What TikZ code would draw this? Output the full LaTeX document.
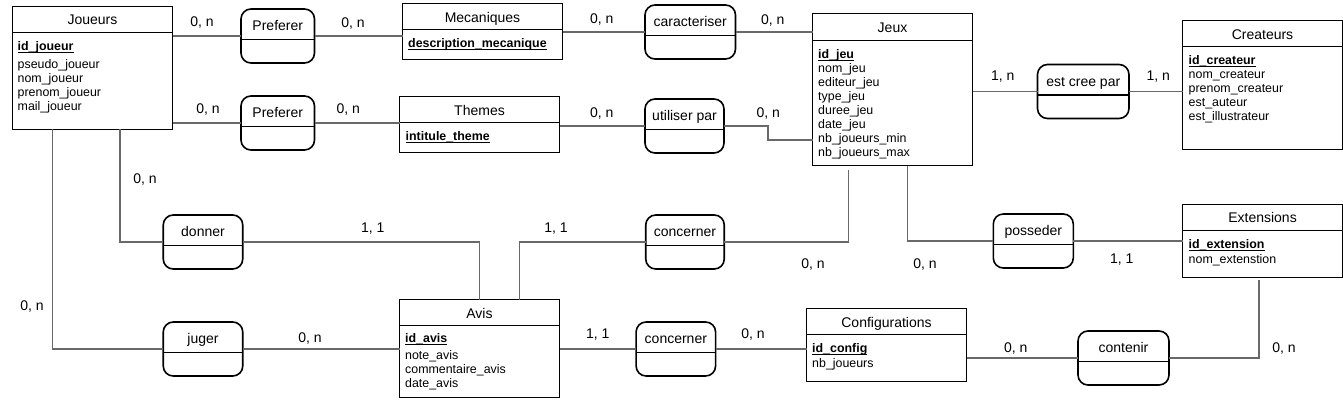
\documentclass[tikz,border=0pt]{standalone}
\usepackage{fontspec}
\setmainfont{Liberation Sans}
\usepackage{xcolor}
\usetikzlibrary{positioning}
\definecolor{lien}{RGB}{105,105,105}
\newcommand{\cleprim}[1]{\underline{\smash{#1}}}

\begin{document}
\begin{tikzpicture}[x=1pt,y=-1pt]
        \tikzstyle{entite}=[rectangle, draw=black, line width=1pt, inner sep=0pt, outer sep=0pt, minimum width=160pt]
        \tikzstyle{sep}=[line width=1pt]
        \tikzstyle{assoc}=[rectangle, rounded corners=10pt, draw=black, line width=1.6pt, inner sep=0pt, outer sep=0pt, minimum height=54pt,
          path picture={\draw[line width=1.6pt] ([yshift=-3.5pt]path picture bounding box.west) -- ([yshift=-3.5pt]path picture bounding box.east);}]
        \tikzstyle{nom}=[yshift=10.5pt, inner sep=0pt, text height=10pt, text depth=0pt, font=\fontsize{14}{16}\selectfont]
        \tikzstyle{titre}=[inner sep=0pt, text height=10pt, text depth=0pt, font=\fontsize{14}{16}\selectfont]
        \tikzstyle{attr}=[anchor=west, inner sep=0pt, text height=8.8pt, text depth=0pt, font=\fontsize{12.4}{14}\selectfont]
        \tikzstyle{cle}=[attr, font=\fontsize{12.4}{14}\selectfont\bfseries]
        \tikzstyle{card}=[inner sep=0pt, text height=10pt, text depth=0pt, font=\fontsize{14}{16}\selectfont]
        \tikzstyle{connect}=[draw=lien, line width=1.2pt]
        \fill[white] (0,0) rectangle (1343,402);
        \useasboundingbox (0,0) rectangle (1343,402);

        % entites
        \node[entite, minimum height=123pt] (joueurs) at (92.5,67.5) {};
        \draw[sep] ([yshift=-26pt]joueurs.north west) -- ([yshift=-26pt]joueurs.north east);
        \node[titre] (joueurs-t) at (92.5,19) {Joueurs};
        \node[cle] (joueurs-id) at (17.5,46) {\cleprim{id\_joueur}};
        \foreach \a [count=\i from 0] in {pseudo\_joueur, nom\_joueur, prenom\_joueur, mail\_joueur}
          \node[attr] (joueurs-a\i) at (17.5,{64+14*\i}) {\a};

        \node[entite, minimum height=56pt] (mecaniques) at (482.5,31.5) {};
        \draw[sep] ([yshift=-26pt]mecaniques.north west) -- ([yshift=-26pt]mecaniques.north east);
        \node[titre] (mecaniques-t) at (482.5,17) {Mecaniques};
        \node[cle] (mecaniques-id) at (408,43) {\cleprim{description\_mecanique}};

        \node[entite, minimum height=56pt] (themes) at (479.5,124.5) {};
        \draw[sep] ([yshift=-26pt]themes.north west) -- ([yshift=-26pt]themes.north east);
        \node[titre] (themes-t) at (479.5,110) {Themes};
        \node[cle] (themes-id) at (405.5,136) {\cleprim{intitule\_theme}};

        \node[entite, minimum height=152pt] (jeux) at (892.5,89.5) {};
        \draw[sep] ([yshift=-26.5pt]jeux.north west) -- ([yshift=-26.5pt]jeux.north east);
        \node[titre] (jeux-t) at (892.5,27) {Jeux};
        \node[cle] (jeux-id) at (818,54) {\cleprim{id\_jeu}};
        \foreach \a [count=\i from 0] in {nom\_jeu, editeur\_jeu, type\_jeu, duree\_jeu, date\_jeu, nb\_joueurs\_min, nb\_joueurs\_max}
          \node[attr] (jeux-a\i) at (818,{68+14*\i}) {\a};

        \node[entite, minimum height=129.5pt] (createurs) at (1262.5,84.75) {};
        \draw[sep] ([yshift=-26.5pt]createurs.north west) -- ([yshift=-26.5pt]createurs.north east);
        \node[titre] (createurs-t) at (1262.5,34.5) {Createurs};
        \node[cle] (createurs-id) at (1188.5,60) {\cleprim{id\_createur}};
        \foreach \a [count=\i from 0] in {nom\_createur, prenom\_createur, est\_auteur, est\_illustrateur}
          \node[attr] (createurs-a\i) at (1188.5,{74+14*\i}) {\a};

        \node[entite, minimum height=72.5pt] (extensions) at (1262.5,240.75) {};
        \draw[sep] ([yshift=-26pt]extensions.north west) -- ([yshift=-26pt]extensions.north east);
        \node[titre] (extensions-t) at (1262.5,217.5) {Extensions};
        \node[cle] (extensions-id) at (1188.5,244) {\cleprim{id\_extension}};
        \node[attr] (extensions-a0) at (1188.5,259) {nom\_extenstion};

        \node[entite, minimum height=98pt] (avis) at (479.5,348.5) {};
        \draw[sep] ([yshift=-26pt]avis.north west) -- ([yshift=-26pt]avis.north east);
        \node[titre] (avis-t) at (479.5,313) {Avis};
        \node[cle] (avis-id) at (405,338.5) {\cleprim{id\_avis}};
        \foreach \a [count=\i from 0] in {note\_avis, commentaire\_avis, date\_avis}
          \node[attr] (avis-a\i) at (405,{355+14*\i}) {\a};

        \node[entite, minimum height=73pt] (configurations) at (886.5,345) {};
        \draw[sep] ([yshift=-26pt]configurations.north west) -- ([yshift=-26pt]configurations.north east);
        \node[titre] (configurations-t) at (886.5,322) {Configurations};
        \node[cle] (configurations-id) at (812,348) {\cleprim{id\_config}};
        \node[attr] (configurations-a0) at (812,363) {nb\_joueurs};

        % associations
        \node[assoc, minimum width=73.5pt] (pref1) at (277.75,36) [label={[nom]center:Preferer}] {};
        \node[assoc, minimum width=73.5pt] (pref2) at (277.75,123) [label={[nom]center:Preferer}] {};
        \node[assoc, minimum width=90.5pt] (caract) at (690.25,32) [label={[nom]center:caracteriser}] {};
        \node[assoc, minimum width=79pt] (utiliser) at (684.5,126) [label={[nom]center:utiliser par}] {};
        \node[assoc, minimum width=91.5pt] (estcree) at (1083.25,91.5) [label={[nom]center:est cree par}] {};
        \node[assoc, minimum width=79.5pt] (donner) at (203,242) [label={[nom]center:donner}] {};
        \node[assoc, minimum width=79.5pt] (juger) at (203,349) [label={[nom]center:juger}] {};
        \node[assoc, minimum width=78.5pt] (concerner1) at (685,242) [label={[nom]center:concerner}] {};
        \node[assoc, minimum width=80pt] (posseder) at (1033.3,241) [label={[nom]center:posseder}] {};
        \node[assoc, minimum width=79.5pt] (concerner2) at (675.85,349) [label={[nom]center:concerner}] {};
        \node[assoc, minimum width=91pt] (contenir) at (1123.5,358) [label={[nom]center:contenir}] {};

        % liens
        \coordinate (jeux-min) at ([yshift=-50.5pt]jeux.west);
        \draw[connect] (pref1.west -| joueurs.east) -- (pref1.west);
        \draw[connect] (pref1.east) -- (pref1.east -| mecaniques.west);
        \draw[connect] (pref2.west -| joueurs.east) -- (pref2.west);
        \draw[connect] (pref2.east) -- (pref2.east -| themes.west);
        \draw[connect] (caract.west -| mecaniques.east) -- (caract.west);
        \draw[connect] (caract.east) -- (caract.east -| jeux.west);
        \draw[connect] (utiliser.west -| themes.east) -- (utiliser.west);
        \draw[connect] (utiliser.east) -- ++(44,0) |- (jeux-min);
        \draw[connect] (estcree.west -| jeux.east) -- (estcree.west);
        \draw[connect] (estcree.east) -- (estcree.east -| createurs.west);
        \draw[connect] ([xshift=40pt]joueurs.south west) |- (juger.west);
        \draw[connect] ([xshift=107.5pt]joueurs.south west) |- (donner.west);
        \draw[connect] (donner.east) -| ([xshift=80pt]avis.north west);
        \draw[connect] ([xshift=120pt]avis.north west) |- (concerner1.west);
        \draw[connect] (concerner1.east) -| ([xshift=36pt,yshift=-4pt]jeux.south west);
        \draw[connect] ([xshift=95pt]jeux.south west) |- (posseder.west);
        \draw[connect] (posseder.east) -- (posseder.east -| extensions.west);
        \draw[connect] (juger.east) -- (juger.east -| avis.west);
        \draw[connect] (concerner2.west -| avis.east) -- (concerner2.west);
        \draw[connect] (concerner2.east) -- (concerner2.east -| configurations.west);
        \draw[connect] (contenir.west -| configurations.east) -- (contenir.west);
        \draw[connect] (contenir.east) -| ([xshift=76.5pt,yshift=-3pt]extensions.south west);

        % cardinalites
        \foreach \px/\py/\t [count=\i] in {202/21.7/{0, n}, 353/22.7/{0, n}, 208/108.3/{0, n}, 348.3/108.3/{0, n},
            601.7/18.3/{0, n}, 772.7/19.3/{0, n}, 601.7/112.7/{0, n}, 768.3/112.7/{0, n},
            1002.7/75/{1, n}, 1158.3/75/{1, n}, 145/178.3/{0, n}, 32/305/{0, n},
            372.7/227/{1, 1}, 310/337.3/{0, n}, 556/227.3/{1, 1}, 813/263.3/{0, n}, 925/263.3/{0, n},
            1121.7/258/{1, 1}, 597.7/333/{1, 1}, 753/333/{0, n}, 1015.7/347/{0, n}, 1284/347/{0, n}}
          \node[card] (card\i) at (\px,\py) {\t};
\end{tikzpicture}
\end{document}
